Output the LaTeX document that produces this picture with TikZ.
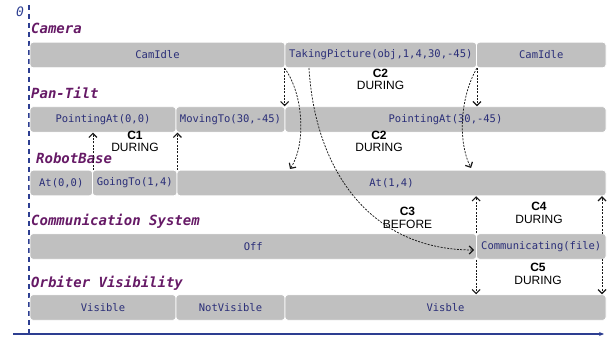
\documentclass[tikz,border=0pt]{standalone}
\usepackage{fontspec}
\setmainfont{Liberation Sans}
\setmonofont{DejaVu Sans Mono}
\usepackage{tikz}
\usepackage{xcolor}
\usetikzlibrary{arrows.meta}
\definecolor{bargray}{RGB}{192,192,192}
\definecolor{statetext}{RGB}{42,46,120}
\definecolor{lanepurple}{RGB}{102,26,102}
\definecolor{axisblue}{RGB}{45,62,145}

\begin{document}
\begin{tikzpicture}[x=1pt, y=-1pt,
	state/.style={draw=white, line width=0.8pt, fill=bargray, rounded corners=3pt, minimum height=25.5pt, inner sep=0pt, text=statetext, font=\fontsize{10.5}{12}\selectfont\ttfamily},
	lane/.style={anchor=base west, inner sep=0pt, text=lanepurple, font=\fontsize{14}{16}\selectfont\ttfamily\bfseries\itshape},
	rel/.style={align=center, inner sep=0pt, font=\fontsize{12}{12.5}\selectfont},
	dep/.style={-{Straight Barb[length=4pt,width=8pt,line width=1.2pt]}, dash pattern=on 2pt off 1.3pt, line width=0.75pt, black!90}]
			\useasboundingbox (0,0) rectangle (608,342);

			% Axes
			\coordinate (ytop) at (29,5);
			\coordinate (ybot) at (29,333);
			\coordinate (xleft) at (13,334);
			\coordinate (xright) at (604,334);
			\draw[axisblue, line width=1.3pt, dash pattern=on 5pt off 4pt] (ytop) -- (ybot);
			\draw[axisblue, line width=1.3pt, -{Stealth[length=5pt,width=4pt]}] (xleft) -- (xright);
			\node[anchor=base west, inner sep=0pt, text=axisblue, font=\fontsize{13}{15}\selectfont\ttfamily\itshape] (zero) at (16,17) {0};

			% Camera
			\node[lane] (lcam) at (31,34) {Camera};
			\node[state, minimum width=255] (camidle1) at (157.5,55) {CamIdle};
			\node[state, minimum width=191.5] (takepic) at (380.75,55) {TakingPicture(obj,1,4,30,-45)};
			\node[state, minimum width=129.5] (camidle2) at (541.25,55) {CamIdle};

			% Pan-Tilt
			\node[lane] (lpan) at (31,99) {Pan-Tilt};
			\node[state, minimum width=146] (pointa) at (103,119.5) {PointingAt(0,0)};
			\node[state, minimum width=109] (moving) at (230.5,119.5) {MovingTo(30,-45)};
			\node[state, minimum width=321] (pointb) at (445.5,119.5) {PointingAt(30,-45)};

			% RobotBase
			\node[lane] (lrobot) at (36,164) {RobotBase};
			\node[state, minimum width=62.5] (at00) at (61.25,183) {At(0,0)};
			\node[state, minimum width=84.5] (going) at (134.75,183) {GoingTo(1,4)};
			\node[state, minimum width=429] (at14) at (391.5,183) {At(1,4)};

			% Communication System
			\node[lane] (lcomm) at (31,225.5) {Communication System};
			\node[state, minimum width=446.5] (off) at (253.25,246.5) {Off};
			\node[state, minimum width=129.5] (commfile) at (541.25,246.5) {Communicating(file)};

			% Orbiter Visibility
			\node[lane] (lorb) at (31,287) {Orbiter Visibility};
			\node[state, minimum width=146] (visible) at (103,307.5) {Visible};
			\node[state, minimum width=109] (notvisible) at (230.5,307.5) {NotVisible};
			\node[state, minimum width=321] (visble) at (445.5,307.5) {Visble};

			% Constraint labels
			\node[rel] (c1) at (135,141.3) {\textbf{C1}\\DURING};
			\node[rel] (c2a) at (380.5,79.5) {\textbf{C2}\\DURING};
			\node[rel] (c2b) at (379,141.3) {\textbf{C2}\\DURING};
			\node[rel] (c3) at (407.5,218) {\textbf{C3}\\BEFORE};
			\node[rel] (c4) at (539,213) {\textbf{C4}\\DURING};
			\node[rel] (c5) at (538,274) {\textbf{C5}\\DURING};

			% Free ends
			\coordinate (c2end) at (290,169);
			\coordinate (c2bend) at (471,168);
			\coordinate (c3start) at (309,68);
			\coordinate (c3end) at (474,250);
			\coordinate (c4right) at (602,234);
			\coordinate (c5right) at (602,259);

			% C1
			\draw[dep] (at00.north east) -- (at00.north east |- pointa.south);
			\draw[dep] (going.north east) -- (going.north east |- pointa.south);

			% C2
			\draw[dep] (takepic.south west) -- (pointb.north west);
			\draw[dep] (takepic.south west) .. controls (304,95) and (306,145) .. (c2end);
			\draw[dep] (takepic.south east) -- (takepic.south east |- pointb.north);
			\draw[dep] (takepic.south east) .. controls (461,95) and (457,140) .. (c2bend);

			% C3
			\draw[dep] (c3start) .. controls (315,170) and (370,250) .. (c3end);

			% C4
			\draw[dep] (commfile.north west) -- (commfile.north west |- at14.south);
			\draw[dep] (c4right) -- (c4right |- at14.south);

			% C5
			\draw[dep] (commfile.south west) -- (commfile.south west |- visble.north);
			\draw[dep] (c5right) -- (c5right |- visble.north);
		\end{tikzpicture}
\end{document}
